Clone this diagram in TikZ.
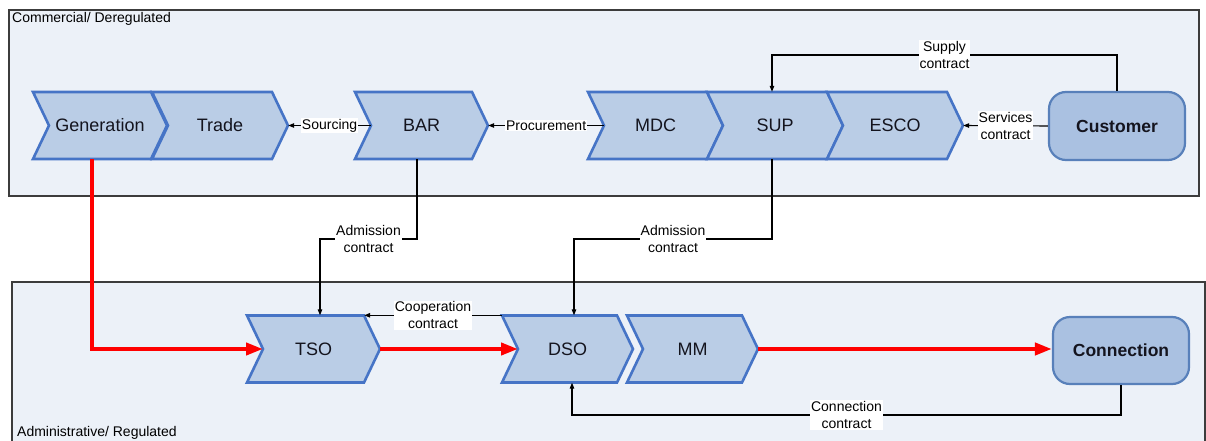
\documentclass[tikz,border=0pt]{standalone}
\usepackage{fontspec}
\setmainfont{Liberation Sans}
\usetikzlibrary{arrows.meta}

\definecolor{panelfill}{RGB}{236,241,248}
\definecolor{panelline}{RGB}{60,60,60}
\definecolor{chevfill}{RGB}{186,205,230}
\definecolor{chevedge}{RGB}{70,116,198}
\definecolor{roundfill}{RGB}{170,193,225}
\definecolor{roundedge}{RGB}{88,128,186}
\definecolor{flowred}{RGB}{255,0,0}
\definecolor{txt}{RGB}{20,20,30}

\newcommand\tipd{16}
\newcommand\hh{33.5}
% chevron: #1 name, #2 x of left corner, #3 x of tip, #4 y of centre, #5 text
\newcommand\chevbox[5]{%
  \draw[chevline] (#2,#4-\hh) -- (#3-\tipd,#4-\hh) -- (#3,#4) -- (#3-\tipd,#4+\hh)
    -- (#2,#4+\hh) -- (#2+\tipd,#4) -- cycle;
  \node[chevtext, minimum width=#3-#2, minimum height=2*\hh] (#1) at ({(#2+#3)/2},#4) {#5};
  \coordinate (#1 notch) at (#2+\tipd,#4);
}

\begin{document}
\begin{tikzpicture}[x=1pt,y=-1pt,
  panel/.style={fill=panelfill},
  paneledge/.style={draw=panelline, line width=1.3pt},
  chevline/.style={fill=chevfill, draw=chevedge, line width=2.6pt, line join=miter},
  chevtext/.style={inner sep=0pt, text=txt, font=\fontsize{18}{20}\selectfont},
  roundbox/.style={fill=roundfill, draw=roundedge, line width=2.2pt, rounded corners=17pt,
    minimum width=136pt, minimum height=68pt, text=txt, font=\bfseries\fontsize{17.5}{20}\selectfont},
  conn/.style={draw=black, line width=1.1pt, -{Triangle[length=6pt,width=4.5pt]}},
  lbl/.style={fill=white, inner sep=1pt, align=center, text=black, font=\fontsize{14}{17}\selectfont},
  redarr/.style={draw=flowred, line width=4pt, -{Triangle[length=17pt,width=12pt]}},
  title/.style={anchor=west, inner sep=0pt, text=black, font=\fontsize{14}{17}\selectfont}]

\useasboundingbox (0,0) rectangle (1206,441);
\fill[white] (0,0) rectangle (1206,441);

% the two domains
\fill[panel] (9,10) rectangle (1199,196);
\draw[paneledge] (9,10) rectangle (1199,196);
\fill[panel] (12,282) rectangle (1205,441);
\draw[paneledge] (12,441) -- (12,282) -- (1205,282) -- (1205,441);
\node[title] (comtitle) at (12,19) {Commercial/ Deregulated};
\node[title] (admtitle) at (17,433) {Administrative/ Regulated};

% market roles
\chevbox{gen}{33}{167}{125.5}{Generation}
\chevbox{trade}{152}{288}{125.5}{Trade}
\chevbox{bar}{355}{488}{125.5}{BAR}
\chevbox{mdc}{588}{723}{125.5}{MDC}
\chevbox{sup}{707}{843}{125.5}{SUP}
\chevbox{esco}{827}{963}{125.5}{ESCO}
\node[roundbox] (cust) at (1117,126) {Customer};

% network roles
\chevbox{tso}{247}{380}{349}{TSO}
\chevbox{dso}{502}{633}{349}{DSO}
\chevbox{mm}{627}{758}{349}{MM}
\node[roundbox, minimum height=67pt] (conn) at (1121,350.5) {Connection};

% columns and rows used by the contract lines
\coordinate (gencol) at (92,0);
\coordinate (barcol) at (417,0);
\coordinate (tsocol) at (320,0);
\coordinate (supcol) at (772,0);
\coordinate (dsocol) at (574,0);
\coordinate (dsocolb) at (572,0);
\coordinate (suprow) at (0,55);
\coordinate (admrow) at (0,239);
\coordinate (ccrow) at (0,415);

% physical flow
\draw[redarr] (gen.south -| gencol) |- (tso notch);
\draw[redarr] (tso.east) -- (dso notch);
\draw[redarr] (mm.east) -- (conn.west |- mm.east);

% contracts
\draw[conn] (bar notch) -- node[lbl]{Sourcing} (trade.east);
\draw[conn] (mdc notch) -- node[lbl]{Procurement} (bar.east);
\draw[conn] (cust.west) -- node[lbl]{Services\\contract} (esco.east);
\draw[conn] (cust.north) -- (cust.north |- suprow) -- node[lbl]{Supply\\contract} (supcol |- suprow) -- (sup.north -| supcol);
\draw[conn] (bar.south -| barcol) -- (barcol |- admrow) -- node[lbl]{Admission\\contract} (tsocol |- admrow) -- (tso.north -| tsocol);
\draw[conn] (sup.south -| supcol) -- (supcol |- admrow) -- node[lbl]{Admission\\contract} (dsocol |- admrow) -- (dso.north -| dsocol);
\draw[conn] (dso.north west) -- node[lbl]{Cooperation\\contract} ([xshift=-16pt]tso.north east);
\draw[conn] (conn.south) -- (conn.south |- ccrow) -- node[lbl]{Connection\\contract} (dsocolb |- ccrow) -- (dso.south -| dsocolb);

\end{tikzpicture}
\end{document}
